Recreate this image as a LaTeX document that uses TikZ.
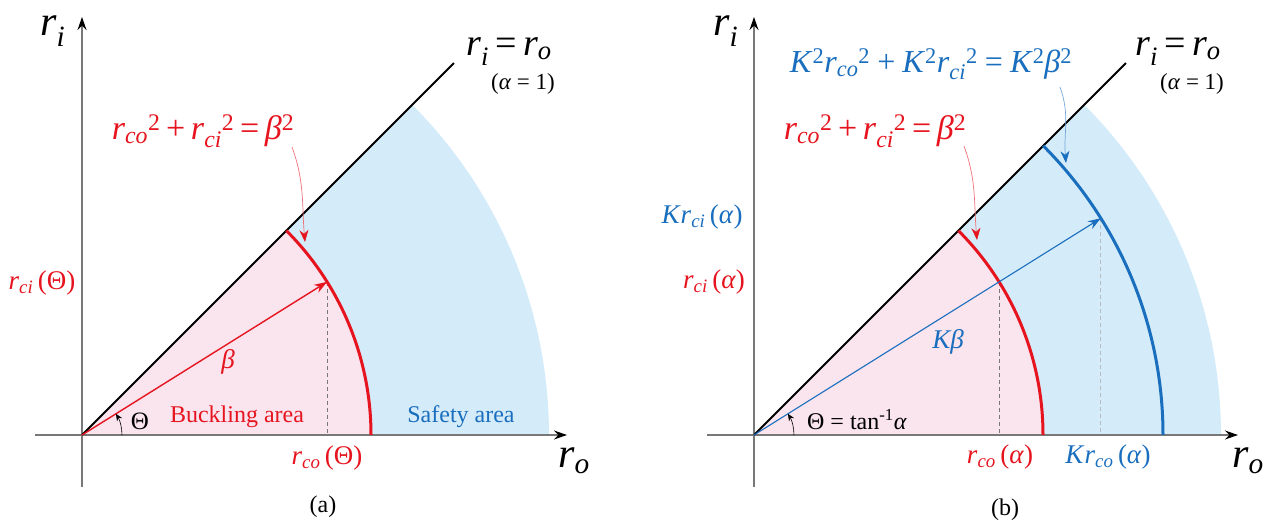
\documentclass[tikz,border=0pt]{standalone}
\usepackage{fontspec}
\setmainfont{Liberation Serif}
\usetikzlibrary{arrows.meta,calc}
\definecolor{rojo}{RGB}{230,20,30}
\definecolor{azul}{RGB}{25,110,190}
\definecolor{rosa}{RGB}{250,228,238}
\definecolor{celeste}{RGB}{212,235,249}
\definecolor{gris}{RGB}{120,120,120}
\newcommand{\erre}{\textit{r}}
\newcommand{\subi}[1]{\textsubscript{\textit{#1}}}
\newcommand{\sq}{\textsuperscript{2}}
\newcommand{\tam}[1]{\fontsize{#1}{#1}\selectfont}
\begin{document}
\begin{tikzpicture}[
    x=1pt,
    y=1pt,
    eje/.style={gris,line width=1.2pt,-{Stealth[length=13pt,width=9pt,color=black]}},
    frontera/.style={line width=2pt},
    arcorojo/.style={rojo,line width=3pt},
    arcoazul/.style={azul,line width=3pt},
    guia/.style={gris,line width=0.8pt,dash pattern=on 4pt off 3pt},
    guiaclara/.style={gris!50,line width=0.8pt,dash pattern=on 4pt off 3pt},
    etiq/.style={inner sep=0pt,font=\tam{27}},
    ecuacion/.style={inner sep=0pt,anchor=base,font=\tam{34}},
    notaroja/.style={rojo!60,line width=0.7pt,-{Stealth[length=12pt,width=9pt,color=rojo]}},
    notaazul/.style={azul!60,line width=0.7pt,-{Stealth[length=12pt,width=9pt,color=azul]}}
]
    \useasboundingbox (0,0) rectangle (1270,524);

    % Panel (a)
    \coordinate (O1) at (82,89);
    \fill[rosa] (O1) -- ++(0:289) arc[start angle=0,end angle=45,radius=289] -- cycle;
    \fill[celeste] ($(O1)+(0:289)$) -- ($(O1)+(0:467)$)
        arc[start angle=0,end angle=45,radius=467]
        -- ($(O1)+(45:289)$) arc[start angle=45,end angle=0,radius=289] -- cycle;
    \coordinate (P1) at ($(O1)+(32:289)$);
    \draw[guia] (P1) -- (P1 |- O1);
    \draw[eje] (35,89) -- (567,89);
    \draw[eje] (82,37) -- (82,507);
    \draw[frontera] (O1) -- ++(45:526) coordinate (D1);
    \draw[arcorojo] ($(O1)+(0:289)$) arc[start angle=0,end angle=45,radius=289];
    \draw[rojo,line width=1.4pt,-{Stealth[length=13pt,width=9pt]}] (O1) -- (P1);
    \draw[line width=0.6pt,-{Stealth[length=7pt,width=6pt]}]
        ($(O1)+(0:40)$) arc[start angle=0,end angle=32,radius=40];
    \node[inner sep=0pt,font=\tam{42},anchor=base west] (ri1) at (40,488) {\erre\subi{i}};
    \node[inner sep=0pt,font=\tam{42},anchor=base west] (ro1) at (558,56) {\erre\subi{o}};
    \node[inner sep=0pt,font=\tam{38},anchor=base west] (id1) at (466,468) {\erre\subi{i}\,=\,\erre\subi{o}};
    \node[inner sep=0pt,font=\tam{23}] (al1) at (523,440) {(\textit{α} = 1)};
    \node[ecuacion,rojo] (eq1) at (203,384) {\erre\subi{co}\sq\,+\,\erre\subi{ci}\sq\,=\,\textit{β}\sq};
    \coordinate (c1) at (292,377);
    \coordinate (t1) at (305,282);
    \draw[notaroja] (c1) to[out=-70,in=95] (t1);
    \node[etiq,rojo] (rci1) at (42,241) {\erre\subi{ci}\,(Θ)};
    \node[etiq,rojo] (rco1) at (327,66) {\erre\subi{co}\,(Θ)};
    \node[etiq,rojo] (b1) at (228,162) {\textit{β}};
    \node[inner sep=0pt,font=\tam{25},anchor=base] (th1) at (140,94) {Θ};
    \node[inner sep=0pt,font=\tam{24},rojo,anchor=base] (ba) at (237,101) {Buckling area};
    \node[inner sep=0pt,font=\tam{24},azul,anchor=base] (sa) at (461,101) {Safety area};
    \node[inner sep=0pt,font=\tam{24}] (pa) at (323,17) {(a)};

    % Panel (b)
    \coordinate (O2) at (754,89);
    \fill[rosa] (O2) -- ++(0:289) arc[start angle=0,end angle=45,radius=289] -- cycle;
    \fill[celeste] ($(O2)+(0:289)$) -- ($(O2)+(0:467)$)
        arc[start angle=0,end angle=45,radius=467]
        -- ($(O2)+(45:289)$) arc[start angle=45,end angle=0,radius=289] -- cycle;
    \coordinate (Q1) at ($(O2)+(32:289)$);
    \coordinate (Q2) at ($(O2)+(32:409)$);
    \draw[guia] (Q1) -- (Q1 |- O2);
    \draw[guiaclara] (Q2) -- (Q2 |- O2);
    \draw[eje] (707,89) -- (1238,89);
    \draw[eje] (754,37) -- (754,507);
    \draw[frontera] (O2) -- ++(45:526) coordinate (D2);
    \draw[arcorojo] ($(O2)+(0:289)$) arc[start angle=0,end angle=45,radius=289];
    \draw[arcoazul] ($(O2)+(0:409)$) arc[start angle=0,end angle=45,radius=409];
    \draw[azul,line width=1.1pt,-{Stealth[length=13pt,width=9pt]}] (O2) -- (Q2);
    \draw[line width=0.6pt,-{Stealth[length=7pt,width=6pt]}]
        ($(O2)+(0:40)$) arc[start angle=0,end angle=32,radius=40];
    \node[inner sep=0pt,font=\tam{42},anchor=base west] (ri2) at (713,488) {\erre\subi{i}};
    \node[inner sep=0pt,font=\tam{42},anchor=base west] (ro2) at (1232,56) {\erre\subi{o}};
    \node[inner sep=0pt,font=\tam{38},anchor=base west] (id2) at (1135,468) {\erre\subi{i}\,=\,\erre\subi{o}};
    \node[inner sep=0pt,font=\tam{23}] (al2) at (1192,440) {(\textit{α} = 1)};
    \node[ecuacion,font=\tam{32},azul] (eq3) at (931,451)
        {\textit{K}\sq\erre\subi{co}\sq\:+\:\textit{K}\sq\erre\subi{ci}\sq\:=\:\textit{K}\sq\textit{β}\sq};
    \node[ecuacion,rojo] (eq2) at (875,384) {\erre\subi{co}\sq\,+\,\erre\subi{ci}\sq\,=\,\textit{β}\sq};
    \coordinate (c2) at (964,378);
    \coordinate (t2) at (977,284);
    \draw[notaroja] (c2) to[out=-70,in=95] (t2);
    \coordinate (c3) at (1060,437);
    \coordinate (t3) at (1066,361);
    \draw[notaazul] (c3) to[out=-70,in=95] (t3);
    \node[etiq,azul] (krci) at (702,307) {\textit{K}\erre\subi{ci}\,(\textit{α})};
    \node[etiq,rojo] (rci2) at (714,242) {\erre\subi{ci}\,(\textit{α})};
    \node[etiq,rojo] (rco2) at (1000,67) {\erre\subi{co}\,(\textit{α})};
    \node[etiq,azul] (krco) at (1108,67) {\textit{K}\erre\subi{co}\,(\textit{α})};
    \node[etiq,azul] (kb) at (948,182) {\textit{Kβ}};
    \node[inner sep=0pt,font=\tam{24},anchor=base] (th2) at (857,94) {Θ = tan\textsuperscript{-1}\textit{α}};
    \node[inner sep=0pt,font=\tam{24}] (pb) at (1005,14) {(b)};
\end{tikzpicture}
\end{document}
